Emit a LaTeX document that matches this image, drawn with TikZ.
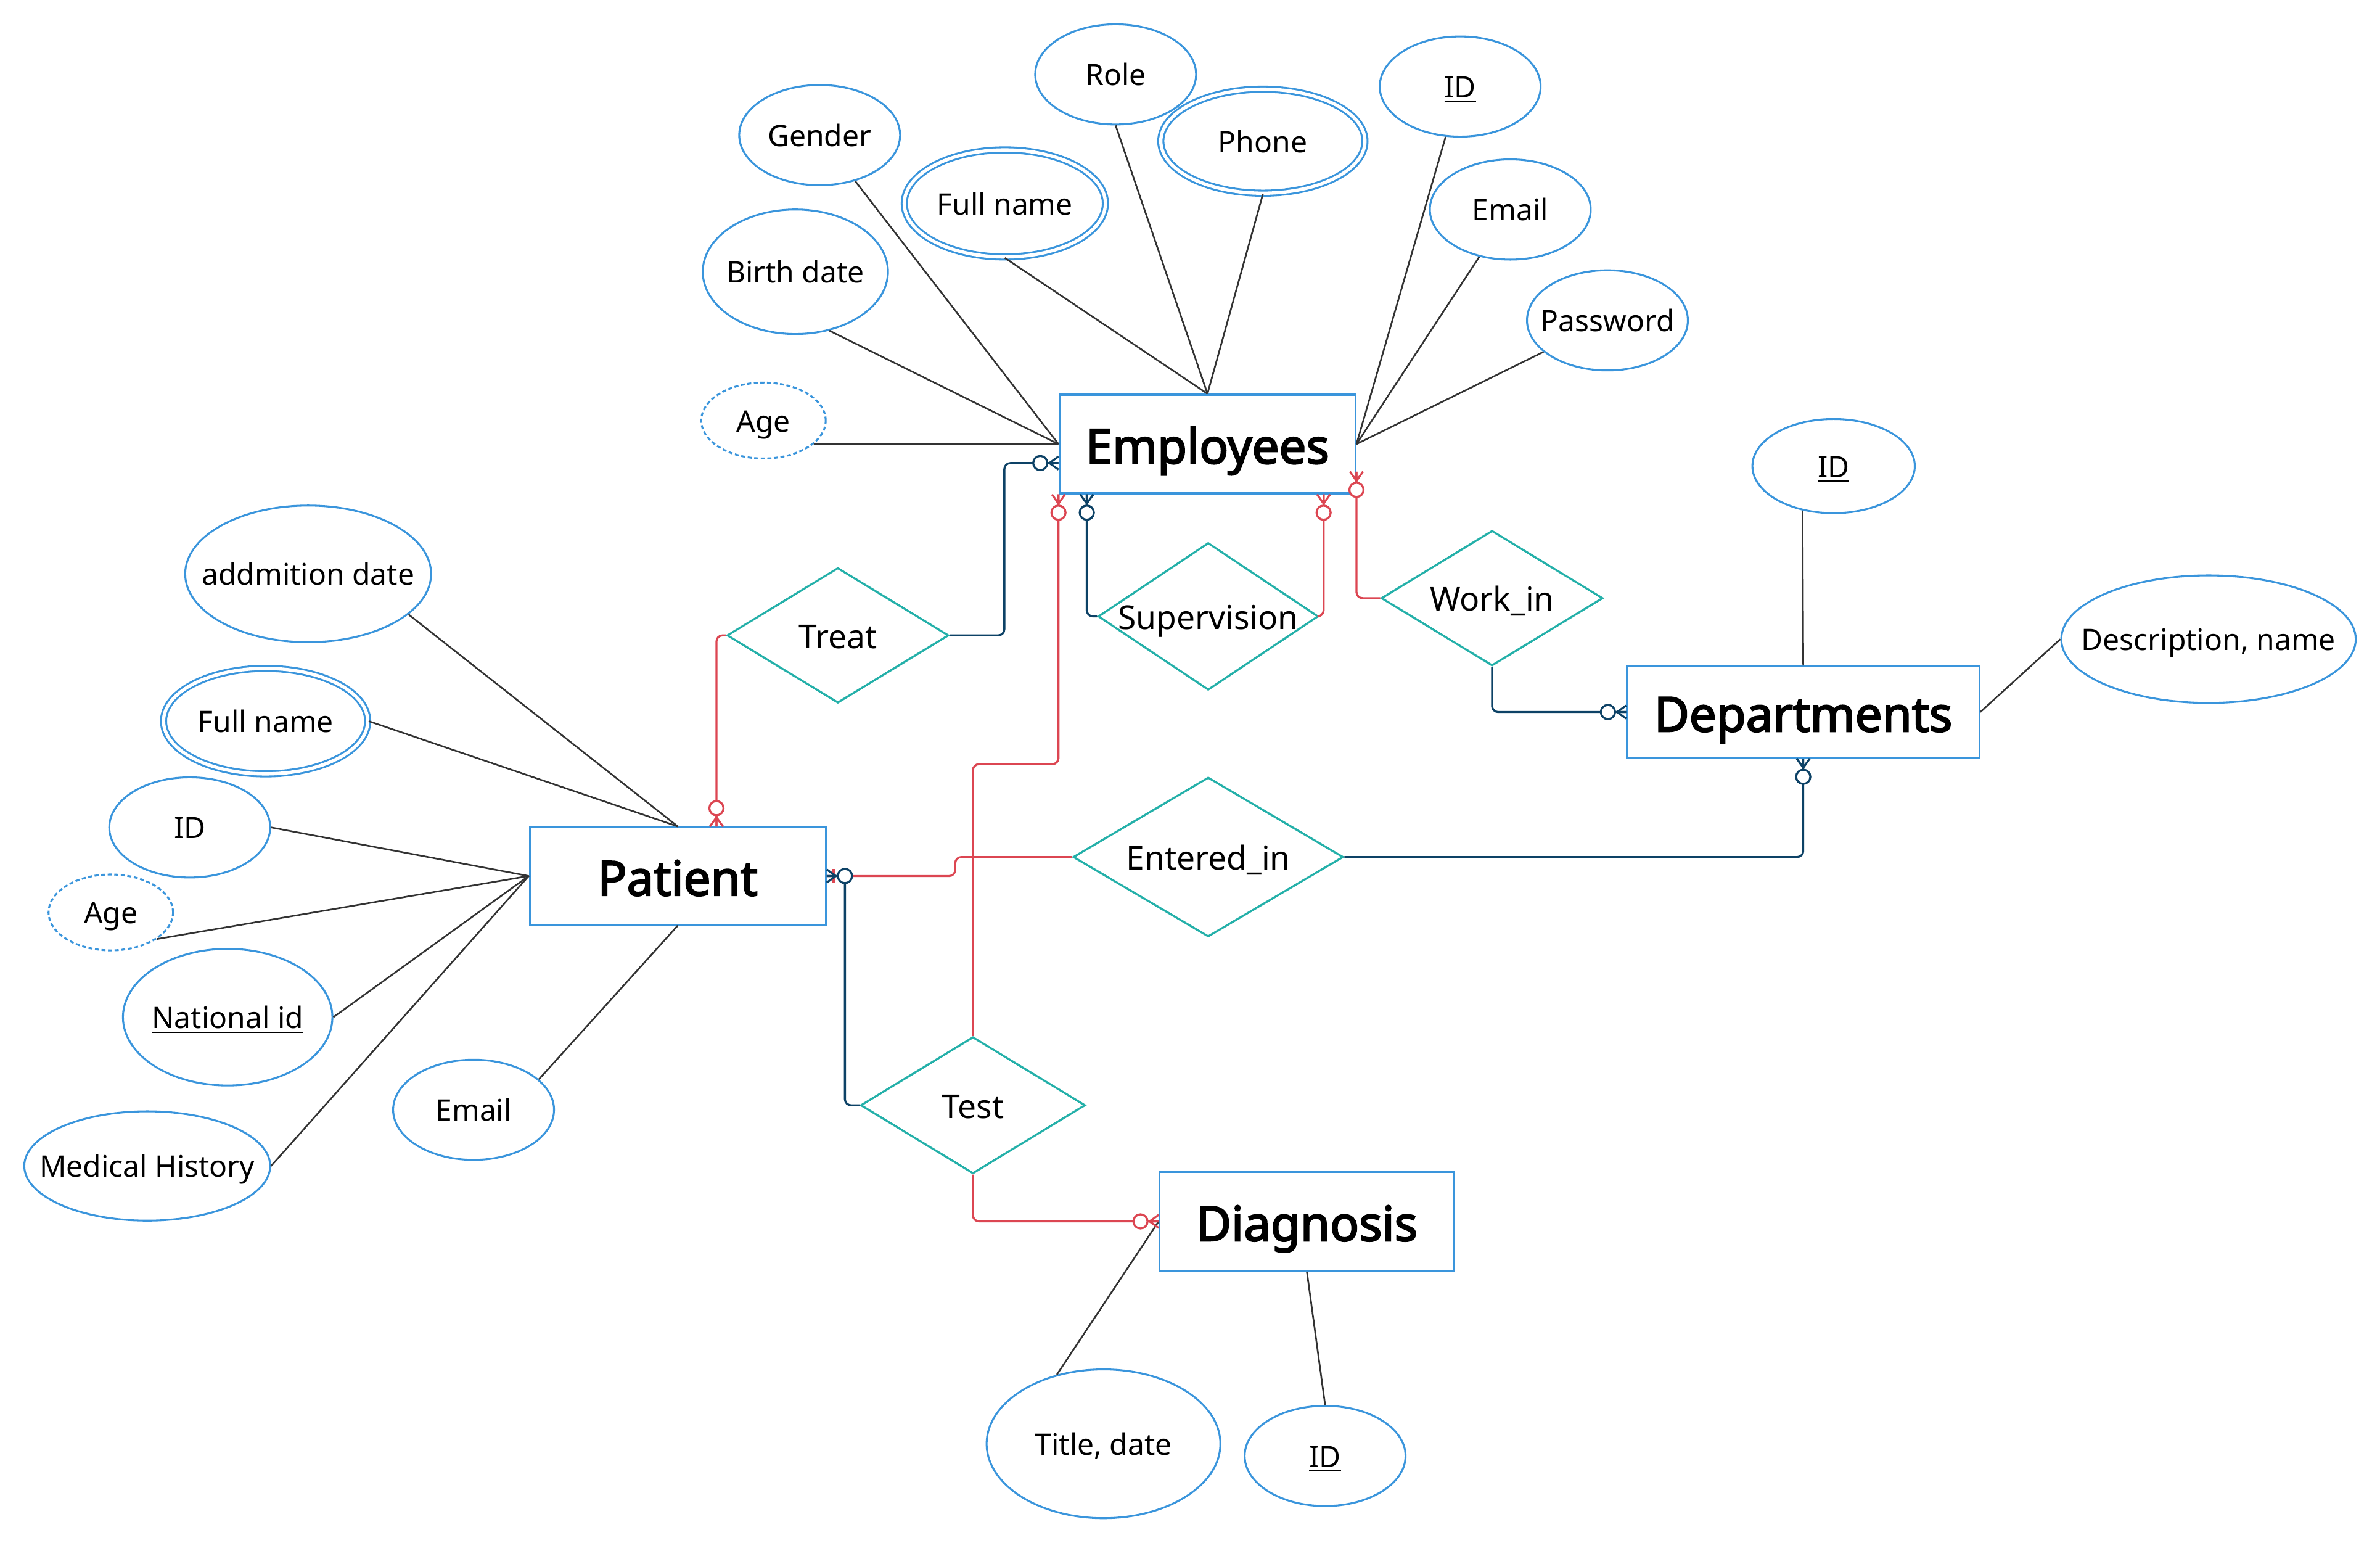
\documentclass[tikz,border=0pt]{standalone}
\usepackage{fontspec}
\setmainfont{Noto Sans}
\newfontfamily\entfont{Noto Sans}[FakeBold=3]
\usetikzlibrary{shapes.geometric,calc}
\definecolor{entblue}{HTML}{3A95DC}
\definecolor{relteal}{HTML}{24B0A9}
\definecolor{redc}{HTML}{DC4652}
\definecolor{navyc}{HTML}{0D4266}
\definecolor{attrline}{HTML}{333333}
\newcommand\zmark[3]{%
  \begin{scope}[shift={#1}, rotate=#2]
    \draw[#3, line width=0.8pt] (0,4.3) -- (6,0) -- (0,-4.3) (0,0) -- (8,0);
    \draw[#3, line width=0.8pt, fill=white] (12,0) circle[radius=2.8pt];
  \end{scope}}
\begin{document}
\begin{tikzpicture}[x=0.6pt, y=-0.6pt,
  ent/.style={rectangle, draw=entblue, line width=0.8pt, fill=white, inner sep=0pt, text height=15.4pt, text depth=0pt, font=\fontsize{19}{22}\entfont},
  rel/.style={diamond, draw=relteal, line width=0.8pt, fill=white, inner sep=0pt},
  attr/.style={ellipse, draw=entblue, line width=0.75pt, fill=white, inner sep=0pt},
  multi/.style={attr, double=white, double distance=1.3pt},
  derived/.style={attr, dash pattern=on 1.6pt off 1pt},
  atxt/.style={font=\fontsize{11.7}{14}\selectfont, text height=8.9pt, text depth=0pt},
  rtxt/.style={font=\fontsize{13}{16}\selectfont, text height=10.2pt, text depth=0pt},
  aline/.style={draw=attrline, line width=0.65pt},
  conn/.style={line width=0.8pt, rounded corners=2.4pt}]
\useasboundingbox (0,0) rectangle (1568,1016);
\fill[white] (0,0) rectangle (1568,1016);

% entities
\node[ent, minimum width=117pt, minimum height=39pt] (emp) at (795.5,292.5) {Employees};
\node[ent, minimum width=117pt, minimum height=38.4pt] (pat) at (446.5,577) {Patient};
\node[ent, minimum width=139.2pt, minimum height=36pt] (dept) at (1188,469) {Departments};
\node[ent, minimum width=116.4pt, minimum height=39pt] (diag) at (861,804.5) {Diagnosis};

% relationships
\node[rel, minimum width=87.6pt, minimum height=53.4pt, label={[rtxt]center:Treat}] (treat) at (552,418.5) {};
\node[rel, minimum width=87pt, minimum height=58.2pt, label={[rtxt]center:Supervision}] (sup) at (796,406) {};
\node[rel, minimum width=87.6pt, minimum height=53.4pt, label={[rtxt]center:Work\_in}] (work) at (983,394) {};
\node[rel, minimum width=106.8pt, minimum height=63pt, label={[rtxt]center:Entered\_in}] (entin) at (796,564.5) {};
\node[rel, minimum width=88.8pt, minimum height=54pt, label={[rtxt]center:Test}] (test) at (641,728) {};

% employee attributes
\node[attr, minimum width=63.6pt, minimum height=39.6pt, label={[atxt]center:Gender}] (gender) at (540,89) {};
\node[attr, minimum width=63.6pt, minimum height=39.6pt, label={[atxt]center:Role}] (role) at (735,49) {};
\node[multi, minimum width=80.7pt, minimum height=41.1pt, label={[atxt]center:Phone}] (phone) at (832,93) {};
\node[attr, minimum width=63.6pt, minimum height=39.6pt, label={[atxt]center:\underline{ID}}] (eid) at (962,57) {};
\node[multi, minimum width=79.5pt, minimum height=42.3pt, label={[atxt]center:{Full name}}] (efull) at (662,134) {};
\node[attr, minimum width=63.6pt, minimum height=39.6pt, label={[atxt]center:Email}] (eemail) at (995,138) {};
\node[attr, minimum width=73.2pt, minimum height=49.2pt, label={[atxt]center:{Birth date}}] (bdate) at (524,179) {};
\node[attr, minimum width=63.6pt, minimum height=39.6pt, label={[atxt]center:Password}] (pass) at (1059,211) {};
\node[derived, minimum width=49.2pt, minimum height=30pt, label={[atxt]center:Age}] (eage) at (503,277) {};

% patient attributes
\node[attr, minimum width=97.2pt, minimum height=54pt, label={[atxt]center:{addmition date}}] (adm) at (203,378) {};
\node[multi, minimum width=80.7pt, minimum height=41.7pt, label={[atxt]center:{Full name}}] (pfull) at (175,475) {};
\node[attr, minimum width=63.6pt, minimum height=39.6pt, label={[atxt]center:\underline{ID}}] (pid) at (125,545) {};
\node[derived, minimum width=49.2pt, minimum height=30pt, label={[atxt]center:Age}] (page) at (73,601) {};
\node[attr, minimum width=82.8pt, minimum height=54pt, label={[atxt]center:\underline{National id}}] (natid) at (150,670) {};
\node[attr, minimum width=63.6pt, minimum height=39.6pt, label={[atxt]center:Email}] (pemail) at (312,731) {};
\node[attr, minimum width=97.2pt, minimum height=43.2pt, label={[atxt]center:{Medical History}}] (medhist) at (97,768) {};

% department attributes
\node[attr, minimum width=64.2pt, minimum height=37.2pt, label={[atxt]center:\underline{ID}}] (did) at (1208,307) {};
\node[attr, minimum width=116.4pt, minimum height=50.4pt, label={[atxt]center:{Description, name}}] (desc) at (1455,421) {};

% diagnosis attributes
\node[attr, minimum width=92.4pt, minimum height=58.8pt, label={[atxt]center:{Title, date}}] (title) at (727,951) {};
\node[attr, minimum width=63.6pt, minimum height=39.6pt, label={[atxt]center:\underline{ID}}] (gid) at (873,959) {};

% attribute lines
\draw[aline] (gender) -- (emp.west);
\draw[aline] (bdate.-60) -- (emp.west);
\draw[aline] (eage.-25) -- (emp.west);
\draw[aline] (efull.south) -- (emp.north);
\draw[aline] (role.south) -- (emp.north);
\draw[aline] (phone.south) -- (emp.north);
\draw[aline] (eid) -- (emp.east);
\draw[aline] (eemail) -- (emp.east);
\draw[aline] (pass) -- (emp.east);

\draw[aline] (adm.-22) -- (pat.north);
\draw[aline] (pfull.east) -- (pat.north);
\draw[aline] (pid.east) -- (pat.west);
\draw[aline] (page.-30) -- (pat.west);
\draw[aline] (natid.east) -- (pat.west);
\draw[aline] (medhist.east) -- (pat.west);
\draw[aline] (pemail.25) -- (pat.south);

\draw[aline] (did.-125) -- (dept.north);
\draw[aline] (desc.west) -- (dept.east);

\draw[aline] (title.124) -- (diag.west);
\draw[aline] (gid.north) -- (diag.south);

% relationship connectors
\draw[conn, navyc] (treat.east) -- ++(36,0) |- ($(emp.west)+(0,12.5)$);
\draw[conn, redc] (treat.west) -| ($(pat.north)+(25.5,0)$);
\draw[conn, navyc] (sup.west) -| ($(emp.south)+(-79.5,0)$);
\draw[conn, redc] (sup.east) -| ($(emp.south)+(76.5,0)$);
\draw[conn, redc] (test.north) -- ++(0,-179) -| (emp.south west);
\draw[conn, redc] (work.west) -| ($(emp.south east)+(0,-15)$);
\draw[conn, navyc] (work.south) |- (dept.west);
\draw[conn, redc] (entin.west) -- ++(-77,0) |- (pat.east);
\draw[conn, navyc] (entin.east) -| (dept.south);
\draw[conn, navyc] (test.west) -| ($(pat.east)+(12,0)$) -- (pat.east);
\draw[conn, redc] (test.south) |- (diag.west);

% end markers
\draw[redc, line width=0.8pt] ($(pat.east)+(4.5,-4.5)$) -- ($(pat.east)+(4.5,4.5)$);
\zmark{($(emp.west)+(0,12.5)$)}{180}{navyc}
\zmark{($(pat.north)+(25.5,0)$)}{90}{redc}
\zmark{($(emp.south)+(-79.5,0)$)}{-90}{navyc}
\zmark{($(emp.south)+(76.5,0)$)}{-90}{redc}
\zmark{(emp.south west)}{-90}{redc}
\zmark{($(emp.south east)+(0,-15)$)}{-90}{redc}
\zmark{(dept.west)}{180}{navyc}
\zmark{(dept.south)}{-90}{navyc}
\zmark{(pat.east)}{0}{navyc}
\zmark{(diag.west)}{180}{redc}
\end{tikzpicture}
\end{document}
